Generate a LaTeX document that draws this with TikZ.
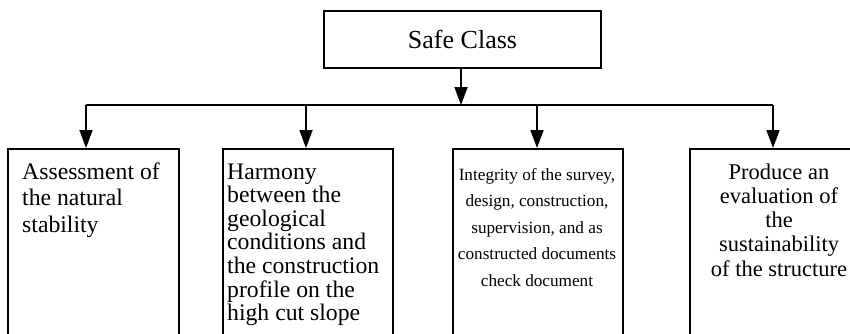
\documentclass[tikz,border=0pt]{standalone}
\usepackage{fontspec}
\setmainfont{Liberation Serif}
\usetikzlibrary{arrows.meta}
\tikzset{
  boxframe/.style={draw=black, line width=1.8pt, rectangle, inner sep=0pt, anchor=north west},
  lbl/.style={inner sep=0pt, anchor=base west},
  lblc/.style={inner sep=0pt, anchor=base},
  conn/.style={line width=1.8pt},
  arr/.style={line width=1.8pt, -{Triangle[length=18pt,width=13pt]}}
}
\begin{document}
\begin{tikzpicture}[x=1pt,y=-1pt]
\useasboundingbox (0,0) rectangle (850,333);
\clip (0,0) rectangle (850,333);
% top box
\node[draw=black, line width=1.8pt, minimum width=277pt, minimum height=57pt, inner sep=0pt,
      font=\fontsize{26}{30}\selectfont] (top) at (462.5,39.5) {Safe Class};
% lower boxes
\node[boxframe, minimum width=171pt, minimum height=220pt] (b1) at (7,148) {};
\node[boxframe, minimum width=170pt, minimum height=220pt] (b2) at (222,148) {};
\node[boxframe, minimum width=170pt, minimum height=220pt] (b3) at (452,148) {};
\node[boxframe, minimum width=180pt, minimum height=220pt] (b4) at (689,148) {};
% texts
\node[lbl] (t1) at (22,179) {\parbox[t]{160pt}{\raggedright\fontsize{23.7}{26.5}\selectfont Assessment of\\the natural\\stability}};
\node[lbl] (t2) at (227,179) {\parbox[t]{165pt}{\raggedright\fontsize{23.7}{23.6}\selectfont Harmony\\between the\\geological\\conditions and\\the construction\\profile on the\\high cut slope}};
\node[lblc] (t3) at (537,180) {\parbox[t]{168pt}{\centering\fontsize{17.2}{26.5}\selectfont Integrity of the survey,\\design, construction,\\supervision, and as\\constructed documents\\check document}};
\node[lblc] (t4) at (779,179) {\parbox[t]{178pt}{\centering\fontsize{22.5}{24.3}\selectfont Produce an\\evaluation of\\the\\sustainability\\of the structure}};
% junction points
\coordinate (jt) at (461,105);
\coordinate (j1) at (86,105);
\coordinate (j2) at (306,105);
\coordinate (j3) at (537,105);
\coordinate (j4) at (773,105);
% connectors
\draw[arr] (top.south -| jt) -- (jt);
\draw[conn] (j1) -- (j4);
\draw[arr] (j1) -- (j1 |- b1.north);
\draw[arr] (j2) -- (j2 |- b2.north);
\draw[arr] (j3) -- (j3 |- b3.north);
\draw[arr] (j4) -- (j4 |- b4.north);
\end{tikzpicture}
\end{document}
